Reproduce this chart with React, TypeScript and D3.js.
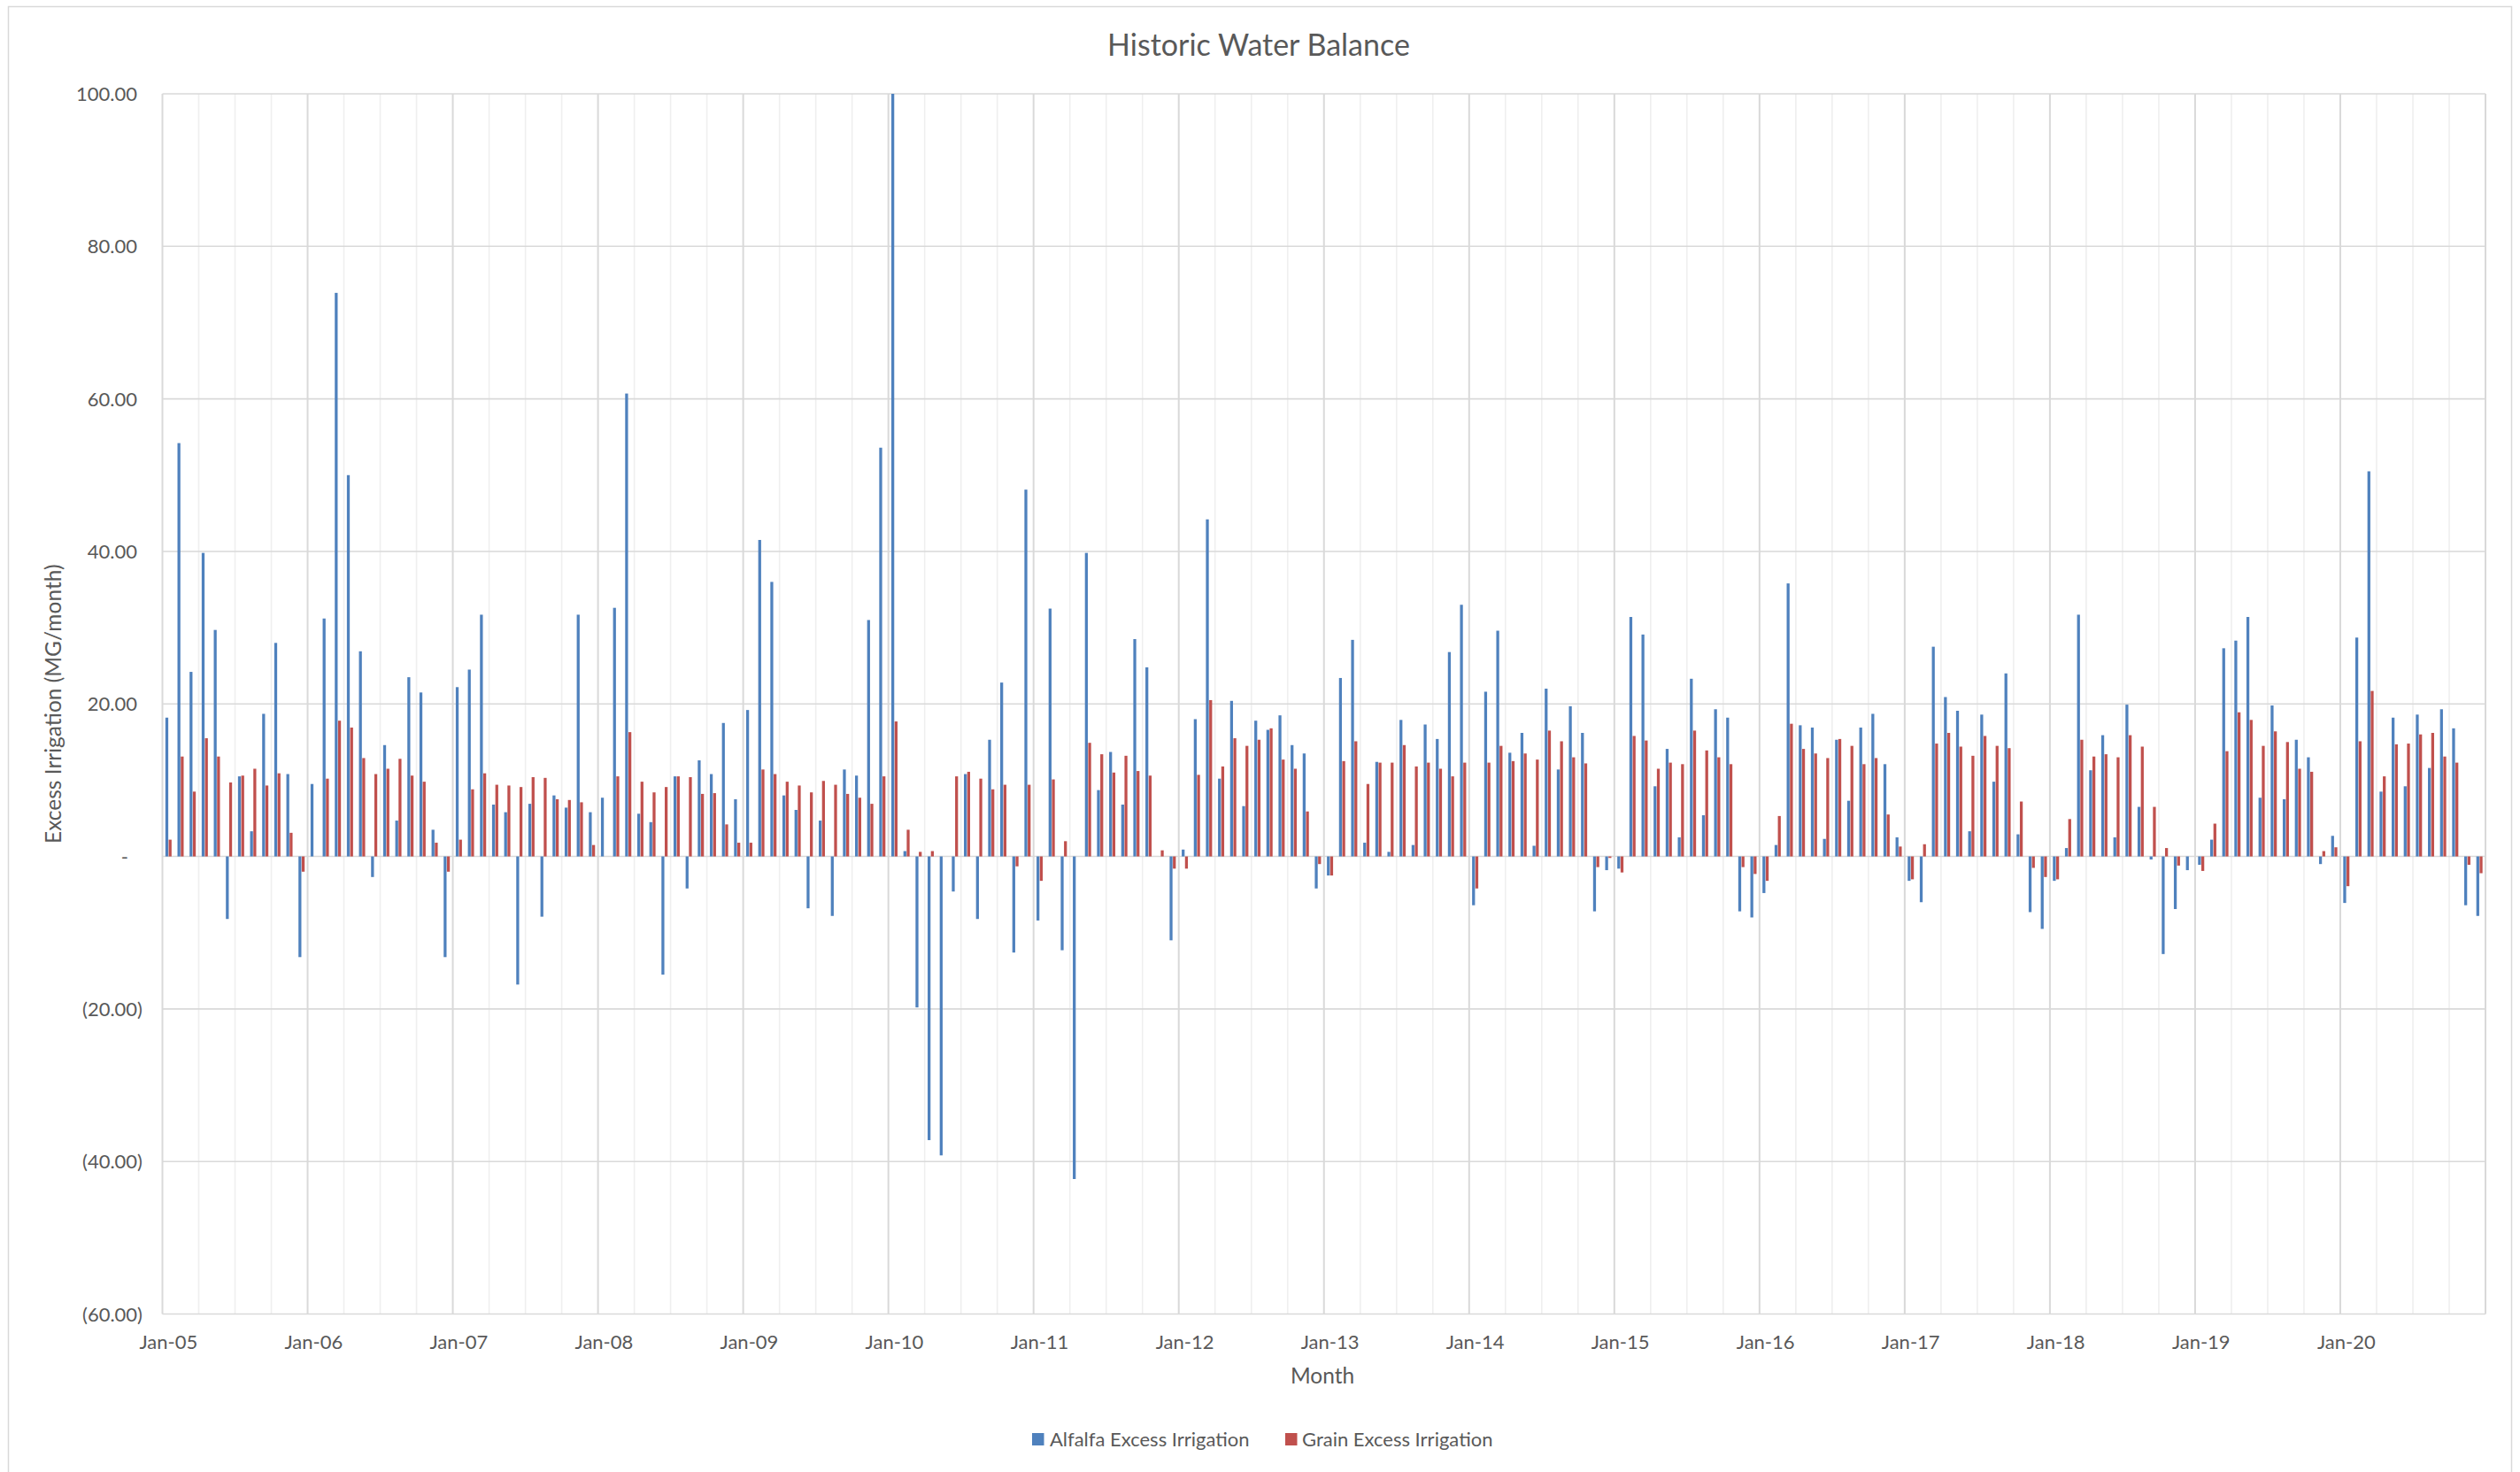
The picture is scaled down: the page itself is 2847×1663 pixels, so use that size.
import React from 'react'
import * as d3 from 'd3'

// monthly excess irrigation, Jan-05 .. Dec-20 (MG/month)
const alfalfa: number[] = [
  18.2, 54.2, 24.2, 39.8, 29.7, -8.2, 10.5, 3.3, 18.7, 28.0, 10.8, -13.2,
  9.5, 31.2, 73.9, 50.0, 26.9, -2.7, 14.6, 4.7, 23.5, 21.5, 3.5, -13.2,
  22.2, 24.5, 31.7, 6.8, 5.8, -16.8, 6.9, -7.9, 8.0, 6.4, 31.7, 5.8,
  7.7, 32.6, 60.7, 5.6, 4.5, -15.5, 10.5, -4.2, 12.6, 10.8, 17.5, 7.5,
  19.2, 41.5, 36.0, 8.0, 6.1, -6.8, 4.7, -7.8, 11.4, 10.6, 31.0, 53.6,
  100, 0.7, -19.8, -37.2, -39.2, -4.6, 10.8, -8.2, 15.3, 22.8, -12.6, 48.1,
  -8.4, 32.5, -12.3, -42.3, 39.8, 8.7, 13.7, 6.8, 28.5, 24.8, 0, -11.0,
  0.9, 18.0, 44.2, 10.2, 20.4, 6.6, 17.8, 16.6, 18.5, 14.6, 13.5, -4.2,
  -2.5, 23.4, 28.4, 1.8, 12.4, 0.6, 17.9, 1.5, 17.3, 15.4, 26.8, 33.0,
  -6.4, 21.6, 29.6, 13.6, 16.2, 1.4, 22.0, 11.4, 19.7, 16.2, -7.2, -1.8,
  -1.6, 31.4, 29.1, 9.2, 14.1, 2.5, 23.3, 5.4, 19.3, 18.2, -7.2, -8.0,
  -4.8, 1.5, 35.8, 17.2, 16.9, 2.3, 15.3, 7.3, 16.9, 18.7, 12.1, 2.5,
  -3.2, -6.0, 27.5, 20.9, 19.1, 3.3, 18.6, 9.8, 24.0, 2.9, -7.3, -9.5,
  -3.2, 1.1, 31.7, 11.3, 15.9, 2.5, 19.9, 6.5, -0.4, -12.8, -6.9, -1.8,
  -1.1, 2.2, 27.3, 28.3, 31.4, 7.7, 19.8, 7.5, 15.3, 13.0, -1.0, 2.7,
  -6.1, 28.7, 50.5, 8.5, 18.2, 9.2, 18.6, 11.6, 19.3, 16.8, -6.4, -7.8
]

const grain: number[] = [
  2.2, 13.1, 8.5, 15.5, 13.1, 9.7, 10.6, 11.5, 9.3, 10.9, 3.1, -2.0,
  0, 10.2, 17.8, 16.9, 12.9, 10.8, 11.5, 12.8, 10.6, 9.8, 1.8, -2.0,
  2.2, 8.8, 10.9, 9.4, 9.3, 9.1, 10.4, 10.3, 7.5, 7.4, 7.1, 1.5,
  0, 10.5, 16.3, 9.8, 8.4, 9.1, 10.5, 10.4, 8.2, 8.3, 4.2, 1.8,
  1.8, 11.4, 10.8, 9.8, 9.3, 8.4, 9.9, 9.4, 8.2, 7.7, 6.9, 10.5,
  17.7, 3.5, 0.6, 0.7, 0, 10.5, 11.1, 10.2, 8.8, 9.4, -1.3, 9.4,
  -3.2, 10.1, 2.0, 0, 14.9, 13.4, 11.0, 13.2, 11.2, 10.6, 0.8, -1.6,
  -1.6, 10.7, 20.5, 11.8, 15.5, 14.5, 15.3, 16.8, 12.7, 11.5, 5.9, -1.0,
  -2.5, 12.5, 15.1, 9.5, 12.3, 12.3, 14.6, 11.8, 12.3, 11.5, 10.5, 12.3,
  -4.2, 12.3, 14.5, 12.5, 13.5, 12.7, 16.5, 15.1, 13.0, 12.2, -1.4, -0.2,
  -2.1, 15.8, 15.2, 11.5, 12.3, 12.1, 16.5, 13.9, 13.0, 12.1, -1.4, -2.3,
  -3.2, 5.3, 17.4, 14.1, 13.5, 12.9, 15.4, 14.5, 12.1, 12.9, 5.5, 1.3,
  -3.0, 1.6, 14.8, 16.2, 14.4, 13.2, 15.8, 14.5, 14.2, 7.2, -1.5, -2.7,
  -3.0, 4.9, 15.3, 13.1, 13.4, 13.0, 15.9, 14.4, 6.5, 1.1, -1.2, 0,
  -1.9, 4.3, 13.8, 18.9, 17.9, 14.5, 16.4, 15.0, 11.5, 11.1, 0.7, 1.2,
  -3.9, 15.1, 21.7, 10.5, 14.7, 14.8, 16.0, 16.2, 13.1, 12.3, -1.1, -2.2
]

const yearLabels = ['Jan-05', 'Jan-06', 'Jan-07', 'Jan-08', 'Jan-09', 'Jan-10', 'Jan-11', 'Jan-12',
  'Jan-13', 'Jan-14', 'Jan-15', 'Jan-16', 'Jan-17', 'Jan-18', 'Jan-19', 'Jan-20']
const yTicks = [100, 80, 60, 40, 20, 0, -20, -40, -60]
const seriesNames = ['Alfalfa Excess Irrigation', 'Grain Excess Irrigation']
const colors = ['#4f81bd', '#c0504d']

const W = 2847
const H = 1663
const plot = { left: 183.5, right: 2808, top: 106, bottom: 1484.5 }
const font = 'Lato, "Open Sans", sans-serif'
const textColor = '#595959'

const fmt = (v: number) => {
  if (v === 0) return '-'
  const s = d3.format(',.2f')(Math.abs(v))
  return v < 0 ? `(${s})` : s
}

const App = () => {
  const months = d3.range(alfalfa.length)
  const x0 = d3.scaleBand<number>().domain(months).range([plot.left, plot.right]).padding(0)
  const x1 = d3.scaleBand<number>().domain([0, 1]).range([0, x0.bandwidth()]).paddingOuter(0.9).paddingInner(0.12)
  const y = d3.scaleLinear().domain([-60, 100]).range([plot.bottom, plot.top])
  const step = x0.step()

  const series = [alfalfa, grain]

  return (
    <svg width={W} height={H} style={{ position: 'absolute', left: 0, top: 0, background: '#fff' }} fontFamily={font}>
      <rect x={9.5} y={7.5} width={W - 19} height={H} fill="#fff" stroke="#d9d9d9" strokeWidth={1.5} />

      {/* vertical gridlines: quarterly minor, yearly major */}
      {d3.range(0, months.length + 1, 3).map(i => {
        const xx = plot.left + i * step
        const major = i % 12 === 0
        return (
          <line key={'v' + i} x1={xx} x2={xx} y1={plot.top} y2={plot.bottom}
            stroke={major ? '#d9d9d9' : '#efefef'} strokeWidth={major ? 2 : 1.6} />
        )
      })}

      {/* horizontal gridlines */}
      {yTicks.map(t => (
        <line key={'h' + t} x1={plot.left} x2={plot.right} y1={y(t)} y2={y(t)} stroke="#d9d9d9" strokeWidth={1.6} />
      ))}

      {/* bars */}
      {series.map((s, si) => (
        <g key={'s' + si} fill={colors[si]}>
          {s.map((v, i) => {
            const yy = Math.min(y(v), y(0))
            const hh = Math.abs(y(v) - y(0))
            return <rect key={i} x={(x0(i) as number) + (x1(si) as number)} y={yy} width={x1.bandwidth()} height={hh} />
          })}
        </g>
      ))}

      {/* y tick labels */}
      {yTicks.map(t => (
        <text key={'yl' + t} x={t === 0 ? 145 : t < 0 ? 161 : 155} y={y(t) + 8} textAnchor="end"
          fontSize={22} fill={textColor}>{fmt(t)}</text>
      ))}

      {/* x tick labels */}
      {yearLabels.map((l, k) => (
        <text key={l} x={(x0(k * 12) as number) + x0.bandwidth() / 2} y={1524} textAnchor="middle"
          fontSize={22} fill={textColor}>{l}</text>
      ))}

      {/* title */}
      <text x={1422} y={63} textAnchor="middle" fontSize={34} fill={textColor}>Historic Water Balance</text>

      {/* axis titles */}
      <text x={1494} y={1563} textAnchor="middle" fontSize={24.5} fill={textColor}>Month</text>
      <text transform={`translate(69, ${(plot.top + plot.bottom) / 2}) rotate(-90)`} textAnchor="middle"
        fontSize={24.5} fill={textColor}>Excess Irrigation (MG/month)</text>

      {/* legend */}
      <g>
        <rect x={1166} y={1619} width={13.5} height={14} fill={colors[0]} />
        <text x={1186} y={1634} fontSize={22} fill={textColor}>{seriesNames[0]}</text>
        <rect x={1452} y={1619} width={13.5} height={14} fill={colors[1]} />
        <text x={1471} y={1634} fontSize={22} fill={textColor}>{seriesNames[1]}</text>
      </g>
    </svg>
  )
}

export default App
